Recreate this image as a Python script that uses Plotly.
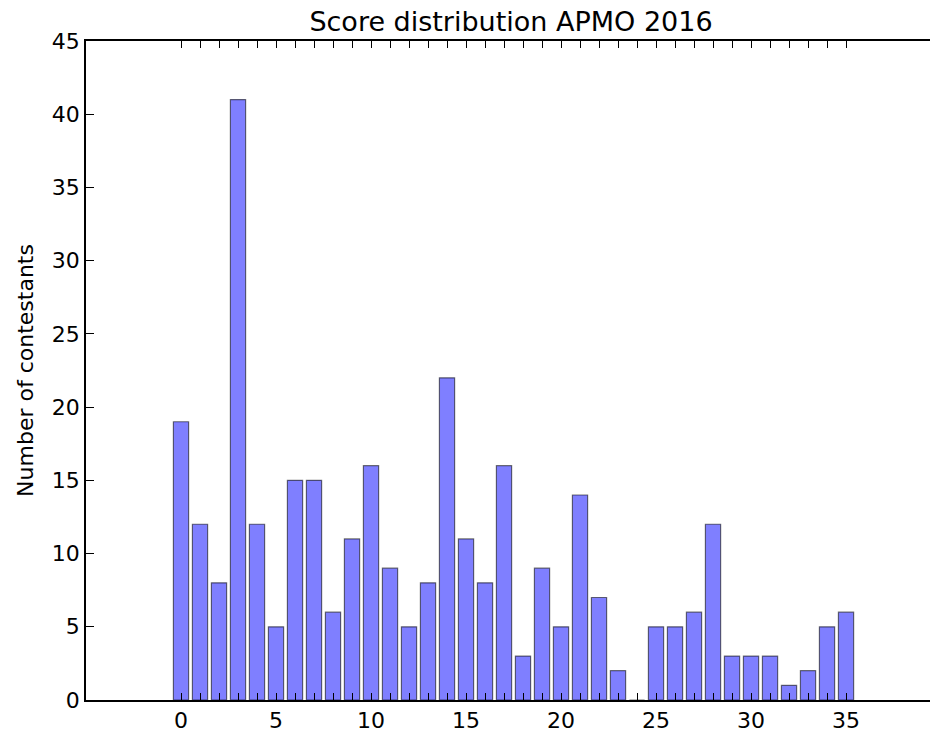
import plotly.graph_objects as go

scores = list(range(0, 36))
contestants = [19, 12, 8, 41, 12, 5, 15, 15, 6, 11,
               16, 9, 5, 8, 22, 11, 8, 16, 3, 9,
               5, 14, 7, 2, 0, 5, 5, 6, 12, 3,
               3, 3, 1, 2, 5, 6]
tick_labels = [str(s) if s % 5 == 0 else "" for s in scores]
y_ticks = list(range(0, 50, 5))

fig = go.Figure(
    go.Bar(
        x=scores,
        y=contestants,
        width=0.8,
        marker=dict(color="rgba(0,0,255,0.5)", line=dict(color="rgba(0,0,0,0.55)", width=1.2)),
    )
)

font = "DejaVu Sans, sans-serif"

fig.update_layout(
    width=930,
    height=736,
    margin=dict(l=86, r=0, t=41, b=36),
    plot_bgcolor="white",
    paper_bgcolor="white",
    font=dict(family=font, size=22, color="black"),
    title=dict(
        text="Score distribution APMO 2016",
        x=511 / 930,
        xanchor="center",
        y=1 - 22 / 736,
        yanchor="middle",
        font=dict(size=27),
    ),
    showlegend=False,
)

fig.update_xaxes(
    range=[-5, 39.42],
    tickvals=scores,
    ticktext=tick_labels,
    ticks="inside",
    ticklen=7,
    tickwidth=1,
    tickcolor="black",
    showline=True,
    linecolor="black",
    linewidth=1.5,
    mirror="ticks",
    showgrid=False,
    zeroline=False,
)

fig.update_yaxes(
    range=[0, 45],
    tickvals=y_ticks,
    ticks="inside",
    ticklen=8,
    tickwidth=1,
    tickcolor="black",
    showline=True,
    linecolor="black",
    linewidth=1.5,
    showgrid=False,
    zeroline=False,
    title=dict(text="Number of contestants", font=dict(size=22), standoff=12),
)

# drop the default page margin so the figure sits flush in the window
fig.write_html(
    "out.html",
    config={"displayModeBar": False},
    post_script="document.body.style.margin='0';document.body.style.overflow='hidden';",
)
